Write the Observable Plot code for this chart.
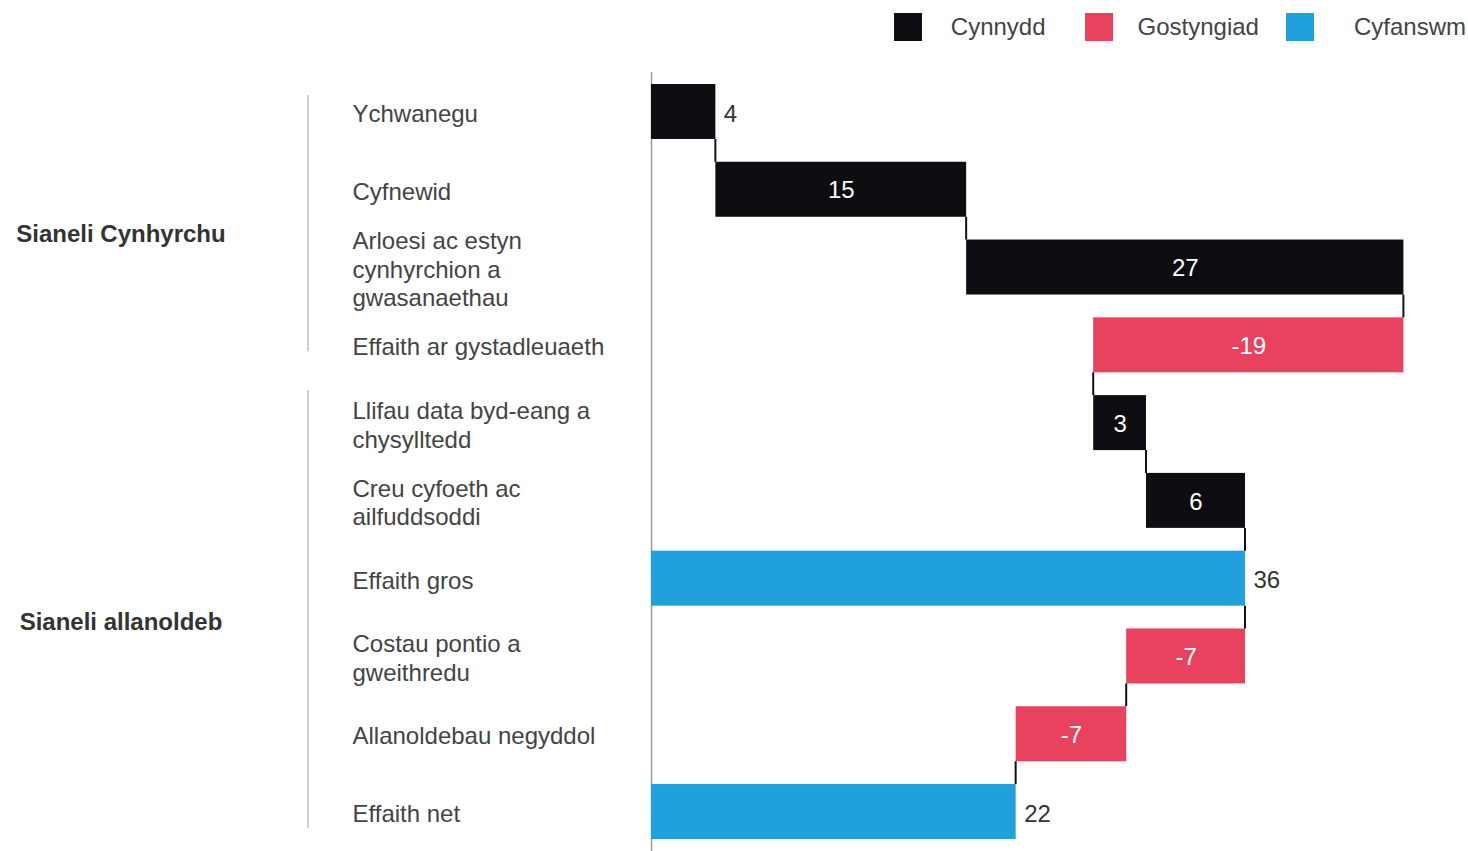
<!DOCTYPE html>
<html>
<head>
<meta charset="utf-8">
<script src="https://cdn.jsdelivr.net/npm/d3@7"></script>
<script src="https://cdn.jsdelivr.net/npm/@observablehq/plot@0.6"></script>
<style>
  html, body { margin: 0; padding: 0; background: #fff; overflow: hidden; }
  body { width: 1468px; height: 851px; position: relative; font-family: "Liberation Sans", Arial, sans-serif; }
  #legend { position: absolute; top: 13px; right: 2px; display: flex; align-items: center; font-size: 24px; color: #444; z-index: 2; }
  #legend .item { display: flex; align-items: center; }
  #legend .sw { width: 28px; height: 28px; }
  #chart { position: absolute; left: 0; top: 0; z-index: 1; }
</style>
</head>
<body>
<div id="legend"></div>
<div id="chart"></div>
<script>
// ---- data ----
const categories = [
  "Ychwanegu",
  "Cyfnewid",
  "Arloesi ac estyn\ncynhyrchion a\ngwasanaethau",
  "Effaith ar gystadleuaeth",
  "Llifau data byd-eang a\nchysylltedd",
  "Creu cyfoeth ac\nailfuddsoddi",
  "Effaith gros",
  "Costau pontio a\ngweithredu",
  "Allanoldebau negyddol",
  "Effaith net"
];
const values = [3.9, 15.2, 26.5, -18.8, 3.2, 6.0, 36, -7.2, -6.7, 22.1];
const kinds = ["Cynnydd", "Cynnydd", "Cynnydd", "Gostyngiad", "Cynnydd", "Cynnydd", "Cyfanswm", "Gostyngiad", "Gostyngiad", "Cyfanswm"];
const valueLabels = ["4", "15", "27", "-19", "3", "6", "36", "-7", "-7", "22"];
const legendKinds = ["Cynnydd", "Gostyngiad", "Cyfanswm"];
const legendColors = ["#0e0e12", "#e8425f", "#20a0dc"];
const groupNames = ["Sianeli Cynhyrchu", "Sianeli allanoldeb"];
const groupSizes = [4, 6];

// ---- build waterfall table ----
let cum = 0;
const rows = categories.map((c, i) => {
  let x1, x2;
  if (kinds[i] === "Cyfanswm") { x1 = 0; x2 = values[i]; cum = values[i]; }
  else { x1 = cum; x2 = cum + values[i]; cum = x2; }
  const outside = kinds[i] === "Cyfanswm" || i === 0;
  return {cat: c, kind: kinds[i], x1, x2, end: cum, label: valueLabels[i], outside,
          mid: (x1 + x2) / 2, right: Math.max(x1, x2)};
});
const links = rows.slice(0, -1).map((r, i) => ({x: r.end, from: r.cat, to: rows[i + 1].cat}));

const font = "Liberation Sans, Arial, sans-serif";

const chart = Plot.plot({
  width: 1468,
  height: 851,
  marginLeft: 651,
  marginRight: 25,
  marginTop: 72,
  marginBottom: 0,
  style: {fontFamily: font, background: "white"},
  x: {domain: [0, 48], axis: null},
  y: {domain: categories, axis: null, paddingInner: 0.293, paddingOuter: 0.154, round: false},
  color: {domain: legendKinds, range: legendColors},
  marks: [
    Plot.ruleX([0], {stroke: "#9a9a9a", strokeWidth: 1.5}),
    Plot.barX(rows, {x1: "x1", x2: "x2", y: "cat", fill: "kind"}),
    Plot.text(rows.filter(d => !d.outside), {x: "mid", y: "cat", text: "label", fill: "white", fontSize: 24, dy: 1}),
    Plot.text(rows.filter(d => d.outside), {x: "right", y: "cat", text: "label", fill: "#333", fontSize: 24, textAnchor: "start", dx: 8, dy: 2}),
    Plot.text(rows, {y: "cat", text: "cat", frameAnchor: "left", dx: -299, dy: 1, textAnchor: "start", lineAnchor: "middle", lineHeight: 1.19, fill: "#444", fontSize: 24})
  ]
});
document.getElementById("chart").appendChild(chart);

const ys = chart.scale("y");
const xs = chart.scale("x");
const bw = ys.bandwidth;
const svg = d3.select(chart);

// connectors between consecutive bars (from bottom of one bar to top of the next)
links.forEach(l => {
  const px = xs.apply(l.x);
  svg.append("line").attr("x1", px).attr("x2", px)
    .attr("y1", ys.apply(l.from) + bw).attr("y2", ys.apply(l.to))
    .attr("stroke", "#111").attr("stroke-width", 2);
});

// group brackets and labels
const bracketTopOffset = [11, -5];
const bracketBottomOffset = [-21, -11];
let idx = 0;
groupNames.forEach((g, gi) => {
  const first = categories[idx], last = categories[idx + groupSizes[gi] - 1];
  idx += groupSizes[gi];
  const top = ys.apply(first), bottom = ys.apply(last) + bw;
  svg.append("line").attr("x1", 308).attr("x2", 308)
    .attr("y1", top + bracketTopOffset[gi]).attr("y2", bottom + bracketBottomOffset[gi])
    .attr("stroke", "#d0d0d0").attr("stroke-width", 2);
  const cy = (top + bottom) / 2 + 5;
  svg.append("text").attr("x", 121).attr("y", cy).attr("text-anchor", "middle")
    .attr("dy", "0.35em").attr("font-size", 24).attr("font-weight", "bold")
    .attr("fill", "#333").attr("font-family", font).text(g);
});

// legend
const itemGap = [0, 39, 27];
const swatchGap = [29, 25, 40];
const legend = d3.select("#legend");
legendKinds.forEach((k, i) => {
  const it = legend.append("div").attr("class", "item").style("margin-left", itemGap[i] + "px");
  it.append("div").attr("class", "sw").style("background", legendColors[i]).style("margin-right", swatchGap[i] + "px");
  it.append("span").text(k);
});
</script>
</body>
</html>
